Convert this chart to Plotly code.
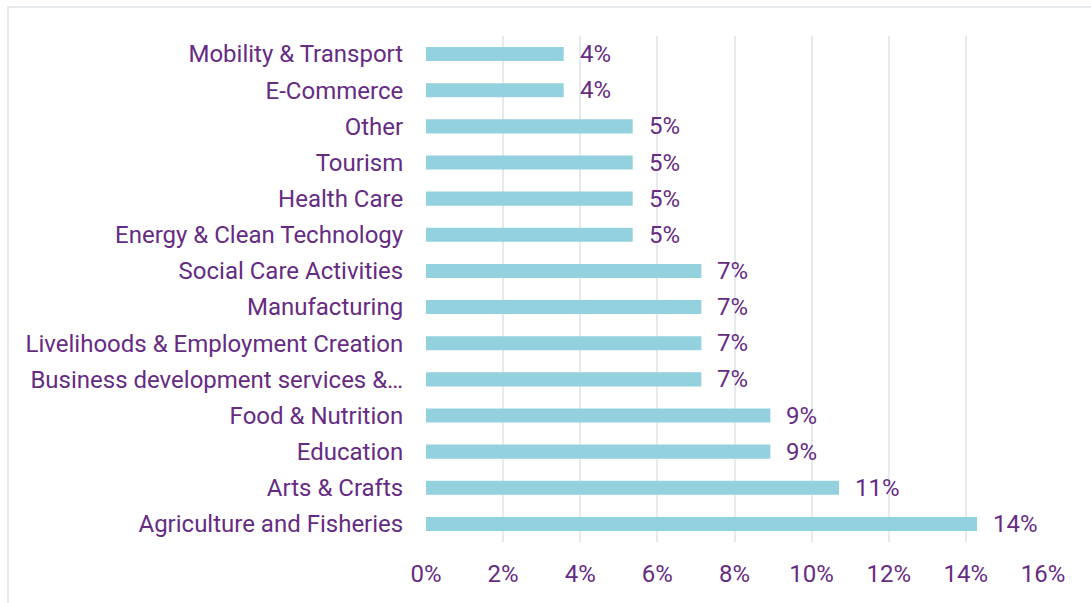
import plotly.graph_objects as go

# Share of enterprises by sector (bottom to top)
sectors = [
    "Agriculture and Fisheries",
    "Arts & Crafts",
    "Education",
    "Food & Nutrition",
    "Business development services &…",
    "Livelihoods & Employment Creation",
    "Manufacturing",
    "Social Care Activities",
    "Energy & Clean Technology",
    "Health Care",
    "Tourism",
    "Other",
    "E-Commerce",
    "Mobility & Transport",
]
shares = [0.1429, 0.1071, 0.0893, 0.0893, 0.0714, 0.0714, 0.0714, 0.0714,
          0.0536, 0.0536, 0.0536, 0.0536, 0.0357, 0.0357]
x_ticks = [0, 0.02, 0.04, 0.06, 0.08, 0.10, 0.12, 0.14, 0.16]
x_tick_labels = ["0%", "2%", "4%", "6%", "8%", "10%", "12%", "14%", "16%"]

PURPLE = "#662c83"
BAR = "#92d1dd"
FONT = "Roboto"
SIZE = 24

fig = go.Figure()
fig.add_trace(go.Bar(
    x=shares, y=sectors, orientation="h",
    marker=dict(color=BAR, line=dict(width=0)),
    width=0.39, hoverinfo="skip",
))

# value labels to the right of each bar
for s, v in zip(sectors, shares):
    fig.add_annotation(
        x=v, y=s, xref="x", yref="y", text=f"{round(v * 100):.0f}%",
        showarrow=False, xanchor="left", xshift=14,
        font=dict(family=FONT, size=SIZE, color=PURPLE),
    )

# light frame around the chart area
fig.add_shape(type="rect", xref="paper", yref="paper",
              x0=-0.6775, x1=1.2, y0=-0.3, y1=1.0573,
              line=dict(color="#dfe3e8", width=1.5), layer="below")

fig.update_layout(
    width=1091, height=603,
    margin=dict(l=426, r=48, t=36, b=60.5),
    paper_bgcolor="white", plot_bgcolor="white",
    showlegend=False, bargap=0.6,
    font=dict(family=FONT, size=SIZE, color=PURPLE),
)
fig.update_xaxes(
    range=[0, 0.16], tickvals=x_ticks, ticktext=x_tick_labels,
    showgrid=True, gridcolor="#e6e9ee", gridwidth=1.5,
    zeroline=False, showline=False,
    ticks="outside", ticklen=10, tickcolor="rgba(0,0,0,0)",
    tickfont=dict(family=FONT, size=SIZE, color=PURPLE),
)
fig.update_yaxes(
    categoryorder="array", categoryarray=sectors,
    showgrid=False, zeroline=False, showline=False,
    ticks="outside", ticklen=17, tickcolor="rgba(0,0,0,0)",
    tickfont=dict(family=FONT, size=SIZE, color=PURPLE),
)

fig.write_html("out.html")
